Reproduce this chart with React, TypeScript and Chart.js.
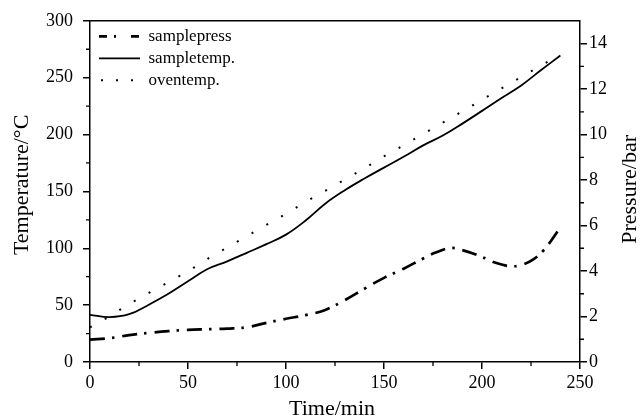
import { useEffect, useRef } from "react";
import { Chart, registerables } from "chart.js";

Chart.register(...registerables);

// ---- data ----
const timeMin = [0, 10, 20, 30, 40, 50, 60, 70, 80, 90, 100, 110, 120, 130, 140, 150, 160, 170, 180, 190, 200, 210, 220, 230, 240];
const sampleTemp = [41.5, 39.5, 42, 50.4, 60, 71, 81.8, 88.5, 96, 103.6, 112, 124.4, 139.2, 151, 161.3, 170.9, 180.4, 190.5, 199.1, 209.6, 220.8, 232.2, 243.2, 256.5, 269.5];
const ovenTemp = [30.4, 40.2, 51, 60.7, 70.2, 79.7, 90.7, 100.6, 110.6, 120.5, 130.4, 140.8, 150.4, 160.4, 170.3, 180.9, 190.6, 200.5, 210.5, 220.5, 230.5, 240.6, 250.6, 260.7, 270];
const pressTime = [0, 10, 20, 30, 40, 50, 60, 70, 80, 90, 100, 110, 120, 130, 140, 150, 160, 170, 176, 184, 190, 200, 207, 215, 221, 226, 231, 235, 239];
const samplePress = [0.98, 1.05, 1.18, 1.28, 1.36, 1.41, 1.44, 1.47, 1.53, 1.72, 1.9, 2.06, 2.29, 2.72, 3.22, 3.7, 4.1, 4.55, 4.8, 5.01, 4.92, 4.62, 4.36, 4.21, 4.29, 4.5, 4.87, 5.3, 5.8];

const seriesNames = ["samplepress", "sampletemp.", "oventemp."];
const xTitle = "Time/min";
const yTitle = "Temperature/°C";
const y2Title = "Pressure/bar";

const timeTicks = [0, 50, 100, 150, 200, 250];
const timeMinorTicks = [25, 75, 125, 175, 225];
const tempTicks = [0, 50, 100, 150, 200, 250, 300];
const tempMinorTicks = [25, 75, 125, 175, 225, 275];
const pressTicks = [0, 2, 4, 6, 8, 10, 12, 14];
const pressMinorTicks = [1, 3, 5, 7, 9, 11, 13];

const FONT = "'Liberation Serif', 'Times New Roman', serif";

const framePlugin = {
  id: "frame",
  afterLayout(chart: any) {
    const lg = chart.legend;
    if (lg) {
      const h = lg.bottom - lg.top;
      lg.left = chart.chartArea.left + 4;
      lg.top = chart.chartArea.top + 2;
      lg.bottom = lg.top + h;
    }
  },
  afterDraw(chart: any) {
    const { ctx, chartArea: a, scales } = chart;
    ctx.save();
    ctx.strokeStyle = "#000";
    ctx.lineWidth = 1.5;
    ctx.beginPath();
    ctx.moveTo(a.left, a.top);
    ctx.lineTo(a.right, a.top);
    ctx.stroke();

    ctx.lineWidth = 1.3;
    ctx.beginPath();
    timeMinorTicks.forEach((v) => {
      const p = scales.x.getPixelForValue(v);
      ctx.moveTo(p, a.bottom);
      ctx.lineTo(p, a.bottom + 4);
    });
    tempMinorTicks.forEach((v) => {
      const p = scales.y.getPixelForValue(v);
      ctx.moveTo(a.left - 4, p);
      ctx.lineTo(a.left, p);
    });
    pressMinorTicks.forEach((v) => {
      const p = scales.y2.getPixelForValue(v);
      ctx.moveTo(a.right, p);
      ctx.lineTo(a.right + 4, p);
    });
    ctx.stroke();

    ctx.fillStyle = "#000";
    ctx.font = `22px ${FONT}`;
    ctx.textAlign = "center";
    ctx.textBaseline = "middle";
    ctx.fillText(xTitle, (a.left + a.right) / 2 - 3, a.bottom + 47);

    ctx.save();
    ctx.translate(scales.y.left + 22.6, (a.top + a.bottom) / 2 - 6.5);
    ctx.rotate(-Math.PI / 2);
    ctx.fillText(yTitle, 0, 0);
    ctx.restore();

    ctx.save();
    ctx.translate(scales.y2.right - 11, (a.top + a.bottom) / 2 - 2);
    ctx.rotate(-Math.PI / 2);
    ctx.fillText(y2Title, 0, 0);
    ctx.restore();

    ctx.restore();
  },
};

export default function App() {
  const canvasRef = useRef<HTMLCanvasElement | null>(null);

  useEffect(() => {
    const canvas = canvasRef.current;
    if (!canvas) return;

    const tickFont = { family: FONT, size: 18 };
    const gridCommon = {
      display: true,
      drawOnChartArea: false,
      drawTicks: true,
      tickLength: 7,
      color: "#000",
      tickColor: "#000",
      lineWidth: 1.5,
      tickWidth: 1.5,
    };
    const borderCommon = { display: true, color: "#000", width: 1.5 };

    const chart = new Chart(canvas, {
      type: "line",
      data: {
        datasets: [
          {
            label: seriesNames[0],
            data: pressTime.map((t, i) => ({ x: t, y: samplePress[i] })),
            yAxisID: "y2",
            borderColor: "#000",
            backgroundColor: "#000",
            borderWidth: 2.7,
            borderDash: [15, 7, 2.5, 8],
            borderCapStyle: "butt",
            tension: 0.4,
            pointRadius: 0,
            fill: false,
          },
          {
            label: seriesNames[1],
            data: timeMin.map((t, i) => ({ x: t, y: sampleTemp[i] })),
            yAxisID: "y",
            borderColor: "#000",
            backgroundColor: "#000",
            borderWidth: 1.8,
            tension: 0.4,
            pointRadius: 0,
            fill: false,
          },
          {
            label: seriesNames[2],
            data: timeMin.map((t, i) => ({ x: t, y: ovenTemp[i] })),
            yAxisID: "y",
            borderColor: "#000",
            backgroundColor: "#000",
            borderWidth: 2,
            borderDash: [2, 15],
            borderCapStyle: "butt",
            tension: 0,
            pointRadius: 0,
            fill: false,
          },
        ],
      },
      options: {
        responsive: false,
        devicePixelRatio: 1,
        animation: false,
        events: [],
        layout: { padding: { top: 19, left: 0, right: 0, bottom: 0 } },
        plugins: {
          tooltip: { enabled: false },
          title: { display: false },
          legend: {
            display: true,
            position: "chartArea",
            align: "start",
            labels: {
              usePointStyle: true,
              pointStyleWidth: 41,
              padding: 5,
              color: "#000",
              font: { family: FONT, size: 17 },
              generateLabels: () => [
                {
                  text: seriesNames[0],
                  strokeStyle: "#000",
                  fillStyle: "rgba(0,0,0,0)",
                  fontColor: "#000",
                  lineWidth: 2.7,
                  lineDash: [8, 7, 2, 15],
                  lineCap: "butt",
                  pointStyle: "line",
                  hidden: false,
                  datasetIndex: 0,
                },
                {
                  text: seriesNames[1],
                  strokeStyle: "#000",
                  fillStyle: "rgba(0,0,0,0)",
                  fontColor: "#000",
                  lineWidth: 1.8,
                  lineDash: [],
                  lineCap: "butt",
                  pointStyle: "line",
                  hidden: false,
                  datasetIndex: 1,
                },
                {
                  text: seriesNames[2],
                  strokeStyle: "#000",
                  fillStyle: "rgba(0,0,0,0)",
                  fontColor: "#000",
                  lineWidth: 2,
                  lineDash: [2, 13],
                  lineDashOffset: -2,
                  lineCap: "butt",
                  pointStyle: "line",
                  hidden: false,
                  datasetIndex: 2,
                },
              ],
            },
          },
        },
        scales: {
          x: {
            type: "linear",
            position: "bottom",
            min: 0,
            max: 250,
            afterBuildTicks: (s: any) => {
              s.ticks = timeTicks.map((v) => ({ value: v }));
            },
            afterFit: (s: any) => {
              s.height = 57;
            },
            ticks: { color: "#000", font: tickFont, padding: 3, maxRotation: 0, autoSkip: false },
            grid: gridCommon,
            border: borderCommon,
          },
          y: {
            type: "linear",
            position: "left",
            min: 0,
            max: 300,
            afterBuildTicks: (s: any) => {
              s.ticks = tempTicks.map((v) => ({ value: v }));
            },
            afterFit: (s: any) => {
              s.width = 90;
            },
            ticks: { color: "#000", font: tickFont, padding: 10, autoSkip: false },
            grid: gridCommon,
            border: borderCommon,
          },
          y2: {
            type: "linear",
            position: "right",
            min: 0,
            max: 15,
            afterBuildTicks: (s: any) => {
              s.ticks = pressTicks.map((v) => ({ value: v }));
            },
            afterFit: (s: any) => {
              s.width = 61;
            },
            ticks: { color: "#000", font: tickFont, padding: 2, autoSkip: false },
            grid: gridCommon,
            border: borderCommon,
          },
        },
      } as any,
      plugins: [framePlugin],
    });

    return () => chart.destroy();
  }, []);

  return (
    <div style={{ position: "fixed", left: 0, top: 0, width: 641, height: 419, background: "#fff" }}>
      <canvas ref={canvasRef} width={641} height={419} style={{ display: "block" }} />
    </div>
  );
}
